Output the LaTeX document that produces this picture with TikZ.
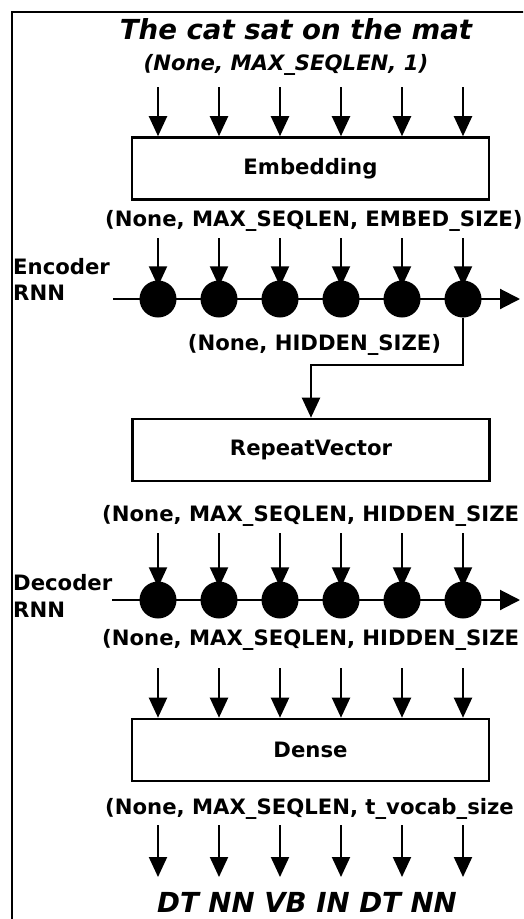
\documentclass[tikz,border=0pt]{standalone}
\usepackage{fontspec}
\setmainfont{DejaVu Sans}
\usetikzlibrary{arrows.meta}
\begin{document}
\begin{tikzpicture}[x=1pt,y=-1pt,
  lbl/.style={font=\fontsize{21.2}{25}\selectfont\bfseries, inner sep=0pt},
  lbli/.style={font=\fontsize{21.2}{25}\selectfont\bfseries\itshape, inner sep=0pt},
  big/.style={font=\fontsize{27.6}{32}\selectfont\bfseries\itshape, inner sep=0pt},
  layer/.style={draw, line width=2.6pt, minimum width=357pt, minimum height=62pt, inner sep=0pt,
    font=\fontsize{21.2}{25}\selectfont\bfseries},
  arr/.style={line width=2.1pt, -{Triangle[length=20pt,width=18pt]}},
  rnnline/.style={line width=2.1pt, -{Triangle[length=20pt,width=20pt]}},
  cell/.style={circle, fill=black, minimum size=37pt, inner sep=0pt},
]
\clip (0,0) rectangle (523,919);
% frame
\coordinate (fbl) at (12,925);
\coordinate (ftl) at (12,12);
\coordinate (ftr) at (530,12);
\draw[line width=1.5pt] (fbl) -- (ftl) -- (ftr);

% texts
\node[big, anchor=base] (title) at (296,39.3) {The cat sat on the mat};
\node[lbli, anchor=base] (inshape) at (286,70.7) {(None, MAX\_SEQLEN, 1)};
\node[lbl, anchor=base west] (s1) at (105,226) {(None, MAX\_SEQLEN, EMBED\_SIZE)};
\node[lbl, anchor=base west] (encl1) at (13,274.5) {Encoder};
\node[lbl, anchor=base west] (encl2) at (13,300.5) {RNN};
\node[lbl, anchor=base] (s2) at (314.5,350.5) {(None, HIDDEN\_SIZE)};
\node[lbl, anchor=base west] (s3) at (102,521.5) {(None, MAX\_SEQLEN, HIDDEN\_SIZE};
\node[lbl, anchor=base west] (decl1) at (13,590.5) {Decoder};
\node[lbl, anchor=base west] (decl2) at (13,617.5) {RNN};
\node[lbl, anchor=base west] (s4) at (102,645.5) {(None, MAX\_SEQLEN, HIDDEN\_SIZE};
\node[lbl, anchor=base west] (s5) at (105,814.5) {(None, MAX\_SEQLEN, t\_vocab\_size};
\node[big, anchor=base] (tags) at (307,912.5) {DT NN VB IN DT NN};

% layers
\node[layer] (emb) at (310.5,168.5) {Embedding};
\node[layer] (rep) at (311,450) {RepeatVector};
\node[layer] (dense) at (310.5,750) {Dense};

% RNN lines
\coordinate (encL) at (113,299);
\coordinate (encR) at (520,299);
\draw[rnnline] (encL) -- (encR);
\coordinate (decL) at (112,600);
\coordinate (decR) at (520,600);
\draw[rnnline] (decL) -- (decR);

\foreach \x [count=\i] in {158,219,280,341,402,463} {
  \node[cell] (e\i) at (\x,299) {};
  \node[cell] (d\i) at (\x,600) {};
  \coordinate (t\i) at (\x,87);
  \draw[arr] (t\i) -- (t\i |- emb.north);
  \coordinate (ea\i) at (\x,238);
  \draw[arr, shorten >=-6pt] (ea\i) -- (e\i);
  \coordinate (da\i) at (\x,533);
  \draw[arr, shorten >=-6pt] (da\i) -- (d\i);
  \coordinate (dd\i) at (\x,668);
  \draw[arr] (dd\i) -- (dd\i |- dense.north);
  \coordinate (os\i) at (\x,825);
  \coordinate (oe\i) at (\x,877);
  \draw[arr] (os\i) -- (oe\i);
}

% encoder to RepeatVector
\coordinate (kink) at (463,365);
\draw[arr] (e6) -- (kink) -| (rep.north);
\end{tikzpicture}
\end{document}
